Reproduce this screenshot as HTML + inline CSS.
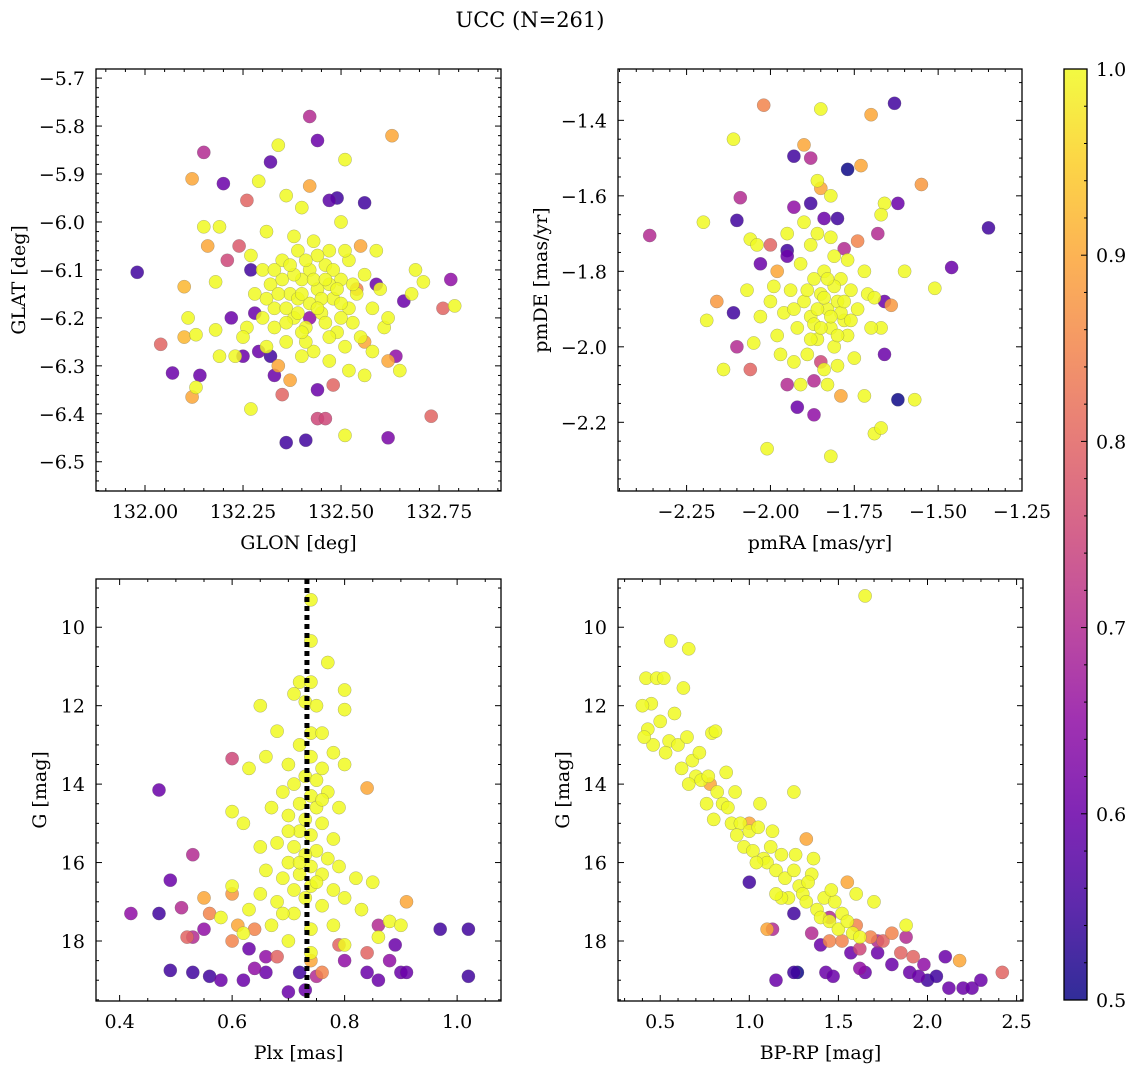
<!DOCTYPE html>
<html><head><meta charset="utf-8">
<style>
body{margin:0;background:#fff;}
svg{display:block;font-family:"DejaVu Serif","Liberation Serif",serif;}
</style></head>
<body>
<svg id="fig" width="1136" height="1068" xmlns="http://www.w3.org/2000/svg">
<text x="530" y="27" text-anchor="middle" font-size="21">UCC (N=261)</text>
</svg>
<script>
// ---- data: [x, y, membership probability] ----
const posData = [
[131.98,-6.105,.55],[132.07,-6.315,.6],[132.04,-6.255,.8],[132.10,-6.135,.92],[132.10,-6.24,.92],[132.14,-6.32,.6],[132.13,-6.235,1],[132.15,-5.855,.7],[132.12,-5.91,.9],[132.15,-6.01,1],[132.12,-6.365,.9],[132.13,-6.345,1],[132.20,-5.92,.6],[132.21,-6.08,.75],[132.24,-6.05,.78],[132.22,-6.2,.6],[132.23,-6.28,1],[132.27,-6.39,1],[132.32,-5.875,.58],[132.36,-6.46,.55],[132.41,-6.455,.55],[132.42,-5.78,.7],[132.44,-5.83,.6],[132.47,-5.955,.58],[132.51,-5.87,1],[132.51,-6.445,1],[132.44,-6.41,.75],[132.56,-5.96,.55],[132.56,-6.32,1],[132.62,-6.45,.62],[132.63,-5.82,.9],[132.66,-6.165,.6],[132.73,-6.405,.8],[132.76,-6.18,.8],[132.78,-6.12,.65],[132.79,-6.175,1],[132.69,-6.1,1],[132.68,-6.15,1],[132.71,-6.125,1],[132.65,-6.31,1],[132.62,-6.29,.9],[132.64,-6.28,.65],[132.59,-6.13,.6],[132.49,-5.95,.55],[132.46,-6.41,.75],[132.33,-6.32,.6],[132.35,-6.36,.8],[132.26,-5.955,.8],[132.34,-5.84,1],[132.29,-5.915,1],[132.36,-5.945,1],[132.40,-5.97,1],[132.42,-5.925,.9],[132.38,-6.03,1],[132.31,-6.02,1],[132.19,-6.01,1],[132.18,-6.125,1],[132.18,-6.225,1],[132.19,-6.28,1],[132.11,-6.2,1],[132.16,-6.05,.9],[132.29,-6.27,.6],[132.28,-6.19,.6],[132.44,-6.35,.6],[132.48,-6.34,.8],[132.56,-6.25,.9],[132.58,-6.27,1],
[132.30,-6.10,1],[132.32,-6.13,1],[132.35,-6.08,1],[132.37,-6.15,1],[132.40,-6.12,1],[132.42,-6.10,1],[132.44,-6.14,1],[132.46,-6.09,1],[132.48,-6.16,1],[132.50,-6.12,1],[132.52,-6.08,1],[132.54,-6.15,1],[132.56,-6.11,1],[132.58,-6.18,1],[132.60,-6.14,1],[132.38,-6.20,1],[132.41,-6.22,1],[132.45,-6.19,1],[132.49,-6.23,1],[132.53,-6.21,1],[132.33,-6.18,1],[132.36,-6.25,1],[132.43,-6.27,1],[132.47,-6.29,1],[132.51,-6.26,1],[132.55,-6.24,1],[132.39,-6.06,1],[132.43,-6.04,1],[132.47,-6.06,1],[132.51,-6.06,1],[132.28,-6.15,1],[132.26,-6.22,1],[132.31,-6.26,1],[132.34,-6.30,.9],[132.40,-6.28,1],[132.52,-6.31,1],[132.61,-6.22,1],[132.59,-6.06,1],[132.50,-6.00,1],[132.27,-6.07,1],[132.30,-6.20,1],[132.55,-6.05,.9],[132.62,-6.20,1],[132.42,-6.17,1],[132.46,-6.21,1],[132.39,-6.16,1],[132.35,-6.12,1],[132.52,-6.18,1],[132.48,-6.10,1],[132.41,-6.25,1],[132.33,-6.22,1],[132.25,-6.24,1],[132.37,-6.33,.9],[132.54,-6.14,.85],[132.44,-6.07,1],[132.36,-6.18,1],[132.47,-6.13,1],[132.50,-6.17,1],[132.42,-6.20,.65],[132.32,-6.28,.55],[132.25,-6.28,.6],[132.27,-6.1,.55],
[132.38,-6.11,1],[132.40,-6.15,1],[132.43,-6.12,1],[132.45,-6.16,1],[132.41,-6.08,1],[132.37,-6.09,1],[132.34,-6.15,1],[132.46,-6.12,1],[132.49,-6.14,1],[132.44,-6.18,1],[132.39,-6.19,1],[132.36,-6.21,1],[132.47,-6.24,1],[132.50,-6.20,1],[132.53,-6.13,1],[132.40,-6.23,1],[132.31,-6.16,1],[132.33,-6.10,1]
];
const pmData = [
[-2.36,-1.705,.7],[-2.02,-1.36,.85],[-1.63,-1.355,.55],[-1.85,-1.37,1],[-2.11,-1.45,1],[-1.93,-1.495,.55],[-1.90,-1.465,.9],[-1.88,-1.50,.7],[-1.77,-1.53,.5],[-1.70,-1.385,.9],[-1.73,-1.52,.9],[-1.55,-1.57,.88],[-1.62,-1.62,.6],[-1.35,-1.685,.55],[-1.46,-1.79,.6],[-1.51,-1.845,1],[-1.62,-2.14,.5],[-1.57,-2.14,1],[-1.69,-2.23,1],[-1.67,-2.215,1],[-1.82,-2.29,1],[-2.01,-2.27,1],[-1.92,-2.16,.6],[-2.19,-1.93,1],[-2.10,-1.665,.55],[-2.09,-1.605,.7],[-2.20,-1.67,1],[-2.11,-1.91,.55],[-2.10,-2.0,.7],[-2.14,-2.06,1],[-2.06,-1.715,1],[-2.00,-1.73,.8],[-1.95,-1.745,.55],[-1.66,-1.62,1],[-1.67,-1.65,1],[-1.68,-1.70,.7],[-1.66,-1.88,.6],[-1.66,-2.02,.6],[-1.60,-1.80,1],[-1.64,-1.89,.88],[-1.67,-1.95,1],[-1.86,-1.56,1],[-1.85,-1.58,.9],[-1.82,-1.60,1],[-1.80,-1.66,.55],[-1.79,-2.13,.9],[-1.87,-2.18,.65],[-1.72,-2.13,1],[-1.87,-2.09,.7],[-2.16,-1.88,.88],[-1.93,-1.63,.65],[-1.88,-1.62,.55],[-1.84,-1.66,.6],[-1.74,-1.72,.85],[-1.78,-1.74,.7],[-1.95,-1.76,.6],[-2.03,-1.78,.6],[-1.98,-1.80,.9],[-2.06,-2.06,.8],[-1.95,-2.10,.7],[-1.85,-2.04,.75],
[-1.83,-1.90,1],[-1.85,-1.86,1],[-1.80,-1.88,1],[-1.88,-1.92,1],[-1.78,-1.93,1],[-1.82,-1.95,1],[-1.86,-1.98,1],[-1.90,-1.88,1],[-1.76,-1.85,1],[-1.79,-1.82,1],[-1.87,-1.82,1],[-1.84,-1.80,1],[-1.92,-1.95,1],[-1.74,-1.90,1],[-1.81,-2.00,1],[-1.89,-2.02,1],[-1.94,-1.85,1],[-1.77,-1.97,1],[-1.91,-1.78,1],[-1.72,-1.80,1],[-1.96,-1.91,1],[-1.84,-2.06,1],[-1.88,-1.73,1],[-1.81,-1.76,1],[-1.75,-2.03,1],[-1.98,-1.97,1],[-1.93,-2.04,1],[-2.00,-1.88,1],[-2.03,-1.92,1],[-1.70,-1.95,1],[-1.86,-1.70,1],[-1.97,-2.02,1],[-2.05,-1.99,1],[-1.91,-2.10,1],[-1.71,-1.86,1],[-1.82,-1.71,1],[-1.90,-1.67,1],[-1.99,-1.84,1],[-2.04,-1.73,1],[-1.83,-2.10,1],[-1.69,-1.87,1],[-1.77,-1.77,1],[-1.95,-1.70,1],[-2.07,-1.85,1],[-1.80,-2.05,1],[-1.87,-1.94,1],[-1.79,-1.91,1],
[-1.84,-1.87,1],[-1.81,-1.84,1],[-1.86,-1.90,1],[-1.89,-1.85,1],[-1.82,-1.92,1],[-1.78,-1.88,1],[-1.85,-1.95,1],[-1.88,-1.98,1],[-1.80,-1.97,1],[-1.76,-1.93,1],[-1.93,-1.90,1],[-1.83,-1.82,1]
];
const plxData = [
[0.74,9.3,1],[0.74,10.35,1],[0.77,10.9,1],[0.72,11.4,1],[0.74,11.4,1],[0.80,11.6,1],[0.71,11.7,1],[0.73,11.9,1],[0.75,12.0,1],[0.65,12.0,1],[0.80,12.1,1],[0.74,12.7,1],[0.76,12.7,1],[0.68,12.65,1],[0.72,13.0,1],[0.78,13.2,1],[0.66,13.3,1],[0.74,13.3,1],[0.70,13.5,1],[0.76,13.6,1],[0.80,13.5,1],[0.63,13.6,1],[0.73,13.8,1],[0.75,13.9,1],[0.71,14.0,1],[0.69,14.2,1],[0.77,14.2,1],[0.74,14.3,1],[0.72,14.5,1],[0.67,14.6,1],[0.75,14.6,1],[0.60,14.7,1],[0.79,14.6,1],[0.70,14.8,1],[0.73,14.9,1],[0.76,15.0,1],[0.62,15.0,1],[0.72,15.2,1],[0.74,15.3,1],[0.78,15.4,1],[0.68,15.5,1],[0.71,15.6,1],[0.65,15.6,1],[0.75,15.7,1],[0.73,15.8,1],[0.77,15.9,1],[0.70,16.0,1],[0.74,16.1,1],[0.79,16.1,1],[0.66,16.2,1],[0.72,16.3,1],[0.76,16.3,1],[0.69,16.4,1],[0.82,16.4,1],[0.60,16.6,1],[0.74,16.6,1],[0.71,16.7,1],[0.78,16.7,1],[0.65,16.8,1],[0.85,16.5,1],[0.80,16.9,1],[0.73,16.9,1],[0.68,17.0,1],[0.76,17.1,1],[0.63,17.2,1],[0.83,17.2,1],[0.71,17.3,1],[0.58,17.4,1],[0.88,17.5,1],[0.67,17.6,1],[0.78,17.6,1],[0.74,17.7,1],[0.62,17.8,1],[0.86,17.9,1],[0.70,18.0,1],[0.80,18.1,1],[0.74,18.3,1],[0.90,17.6,1],[0.70,15.2,1],[0.76,14.4,1],[0.72,16.0,1],[0.75,16.5,1],[0.69,17.3,1],
[0.84,14.1,.9],[0.60,16.8,.88],[0.55,16.9,.9],[0.91,17.0,.9],[0.56,17.3,.85],[0.64,17.7,.85],[0.60,18.0,.85],[0.79,18.1,.8],[0.68,18.4,.8],[0.84,18.3,.8],[0.74,18.5,.9],[0.61,17.6,.9],[0.76,18.8,.85],[0.52,17.9,.8],
[0.42,17.3,.65],[0.47,17.3,.55],[0.47,14.15,.6],[0.53,15.8,.7],[0.49,16.45,.6],[0.60,13.35,.75],[0.51,17.15,.7],[0.53,17.9,.7],[0.55,17.7,.65],[0.49,18.75,.55],[0.53,18.8,.55],[0.56,18.9,.55],[0.58,19.0,.6],[0.62,19.0,.6],[0.64,18.7,.65],[0.66,18.8,.6],[0.63,18.2,.6],[0.66,18.4,.65],[0.72,18.8,.55],[0.73,19.25,.6],[0.75,18.9,.7],[0.80,18.5,.65],[0.84,18.8,.6],[0.86,19.0,.6],[0.88,18.5,.65],[0.90,18.8,.6],[0.89,18.1,.6],[0.91,18.8,.6],[0.97,17.7,.55],[1.02,17.7,.55],[1.02,18.9,.55],[0.86,17.6,.7],[0.70,19.3,.6]
];
const cmdData = [
[0.42,11.3,1],[0.45,11.95,1],[0.40,12.0,1],[0.48,11.3,1],[0.52,11.3,1],[0.43,12.6,1],[0.50,12.4,1],[0.46,13.0,1],[0.41,12.8,1],[0.55,12.9,1],[0.53,13.2,1],[0.58,12.2,1],[0.56,10.35,1],[0.66,10.55,1],[0.63,11.55,1],[0.60,13.0,1],[0.62,13.6,1],[0.65,12.8,1],[0.68,13.4,1],[0.70,13.8,1],[0.66,14.0,1],[0.73,13.9,1],[0.77,13.8,1],[0.79,12.7,1],[0.81,12.65,1],[0.82,14.2,1],[0.76,14.5,1],[0.85,14.5,1],[0.88,14.6,1],[0.80,14.9,1],[0.90,15.0,1],[0.92,14.2,1],[0.95,15.0,1],[0.87,13.7,1],[0.97,15.6,1],[1.00,15.2,1],[1.02,15.7,1],[1.05,15.1,1],[1.08,15.9,1],[1.10,16.0,1],[1.12,15.6,1],[1.15,16.2,1],[1.18,15.8,1],[1.20,16.4,1],[1.22,16.9,1],[1.25,14.2,1],[1.25,16.2,1],[1.28,16.6,1],[1.30,16.8,1],[1.32,17.0,1],[1.35,16.3,1],[1.38,17.2,1],[1.40,17.4,1],[1.42,16.9,1],[1.45,17.5,1],[1.48,17.0,1],[1.50,17.7,1],[1.52,17.3,1],[1.55,17.5,1],[1.58,17.8,1],[1.60,16.8,1],[1.62,17.9,1],[1.65,9.2,1],[1.70,17.0,1],[1.88,17.6,1],[1.18,16.9,1],[1.06,14.5,1],[1.13,15.2,1],[1.26,15.8,1],[1.36,15.9,1],[1.15,16.8,1],[0.72,13.2,1],[0.93,15.3,1],[1.04,16.0,1],[1.33,16.5,1],[1.46,16.7,1],
[1.32,15.4,.9],[1.55,16.5,.9],[1.60,17.6,.85],[1.68,17.9,.85],[1.75,18.0,.8],[1.85,18.3,.8],[1.80,17.8,.85],[1.92,18.4,.8],[2.18,18.5,.9],[2.42,18.8,.8],[1.62,18.2,.75],[1.52,18.0,.85],[1.00,15.0,.9],[0.78,14.0,.9],[1.45,18.0,.85],[1.10,17.7,.9],
[1.00,16.5,.55],[1.13,17.7,.7],[1.15,19.0,.6],[1.25,18.8,.55],[1.27,18.8,.5],[1.25,17.3,.55],[1.40,18.1,.6],[1.43,18.8,.6],[1.47,18.9,.6],[1.57,18.3,.6],[1.62,18.7,.65],[1.65,18.8,.6],[1.72,18.3,.6],[1.80,18.6,.6],[1.90,18.8,.6],[1.95,18.9,.6],[2.00,19.0,.55],[2.05,18.9,.55],[2.10,18.4,.6],[2.12,19.2,.6],[2.20,19.2,.6],[2.25,19.2,.6],[2.30,19.0,.6],[1.72,18.0,.7],[1.98,18.6,.65],[1.88,17.9,.7],[1.45,17.4,.7],[1.35,17.8,.7]
];
const plxLine = 0.733;
const cbTicks = [0.5,0.6,0.7,0.8,0.9,1.0];

const NS='http://www.w3.org/2000/svg';
const svg=document.getElementById('fig');
function mk(tag,attrs,parent){const e=document.createElementNS(NS,tag);for(const k in attrs)e.setAttribute(k,attrs[k]);(parent||svg).appendChild(e);return e;}
const stops=['#0d0887','#41049d','#6a00a8','#8f0da4','#b12a90','#cc4778','#e16462','#f2844b','#fca636','#fcce25','#f0f921'];
function hex(h){return [1,3,5].map(i=>parseInt(h.substr(i,2),16));}
function plasma(t){t=Math.max(0,Math.min(1,t));const f=t*10,i=Math.min(9,Math.floor(f)),r=f-i;const a=hex(stops[i]),b=hex(stops[i+1]);return 'rgb('+a.map((v,k)=>Math.round(v+(b[k]-v)*r)).join(',')+')';}
function pcolor(p){return plasma((p-0.5)/0.5);}
const FS=19;

function panel(cfg){
  const {name,x0,x1,y0,y1,xmin,xmax,ymin,ymax,invY,xt,xm,yt,ym,fmtx,fmty,xlabel,ylabel,ylx,data}=cfg;
  const g=mk('g',{});
  
  
  const sx=v=>x0+(v-xmin)/(xmax-xmin)*(x1-x0);
  const sy=v=>invY? y0+(v-ymin)/(ymax-ymin)*(y1-y0) : y1-(v-ymin)/(ymax-ymin)*(y1-y0);
  const clip='c'+name;
  const cp=mk('clipPath',{id:clip},g);mk('rect',{x:x0,y:y0,width:x1-x0,height:y1-y0},cp);
  const pts=mk('g',{'clip-path':'url(#'+clip+')'},g);
  
  
  const sorted=data.slice().sort((a,b)=>a[2]-b[2]);
  sorted.forEach(d=>{
    const c=mk('circle',{cx:sx(d[0]).toFixed(1),cy:sy(d[1]).toFixed(1),r:6.6,fill:pcolor(d[2]),'fill-opacity':0.85,stroke:'#666','stroke-opacity':0.5,'stroke-width':0.5},pts);
    
    
  });
  cfg.extra&&cfg.extra(g,sx,sy);
  mk('rect',{x:x0,y:y0,width:x1-x0,height:y1-y0,fill:'none',stroke:'#000','stroke-width':1.3},g);
  const tk=mk('g',{stroke:'#000','stroke-width':1},g);
  const eps=1e-9;
  for(let i=Math.ceil(xmin/xm-eps); i*xm<=xmax+eps; i++){const v=i*xm;const X=sx(v);const major=xt.some(t=>Math.abs(t-v)<xm/3);const L=major?6:3;mk('line',{x1:X,x2:X,y1:y1,y2:y1-L},tk);mk('line',{x1:X,x2:X,y1:y0,y2:y0+L},tk);}
  for(let i=Math.ceil(ymin/ym-eps); i*ym<=ymax+eps; i++){const v=i*ym;const Y=sy(v);const major=yt.some(t=>Math.abs(t-v)<ym/3);const L=major?6:3;mk('line',{y1:Y,y2:Y,x1:x0,x2:x0+L},tk);mk('line',{y1:Y,y2:Y,x1:x1,x2:x1-L},tk);}
  xt.forEach(v=>{const t=mk('text',{x:sx(v),y:y1+27,'text-anchor':'middle','font-size':FS},g);t.textContent=fmtx(v);});
  yt.forEach(v=>{const t=mk('text',{x:x0-11,y:sy(v)+7,'text-anchor':'end','font-size':FS},g);t.textContent=fmty(v);});
  const xl=mk('text',{x:(x0+x1)/2,y:y1+58,'text-anchor':'middle','font-size':FS},g);xl.textContent=xlabel;
  
  const yl=mk('text',{x:ylx,y:(y0+y1)/2,'text-anchor':'middle','font-size':FS,transform:'rotate(-90 '+ylx+' '+((y0+y1)/2)+')'},g);yl.textContent=ylabel;
  
}
const negf=(v,d)=>(v<0?'\u2212':'')+Math.abs(v).toFixed(d);
panel({name:'glon-glat-panel',x0:96,x1:501,y0:69,y1:491,xmin:131.875,xmax:132.908,ymin:-6.561,ymax:-5.681,
 xt:[132,132.25,132.5,132.75],xm:0.05,yt:[-5.7,-5.8,-5.9,-6.0,-6.1,-6.2,-6.3,-6.4,-6.5],ym:0.02,
 fmtx:v=>v.toFixed(2),fmty:v=>negf(v,1),xlabel:'GLON [deg]',ylabel:'GLAT [deg]',ylx:25,data:posData});
panel({name:'pm-panel',x0:618,x1:1022,y0:69,y1:491,xmin:-2.4545,xmax:-1.25,ymin:-2.382,ymax:-1.264,
 xt:[-2.25,-2,-1.75,-1.5,-1.25],xm:0.05,yt:[-1.4,-1.6,-1.8,-2.0,-2.2],ym:0.05,
 fmtx:v=>negf(v,2),fmty:v=>negf(v,1),xlabel:'pmRA [mas/yr]',ylabel:'pmDE [mas/yr]',ylx:547,data:pmData});
panel({name:'plx-g-panel',x0:96,x1:501,y0:579,y1:1001,xmin:0.358,xmax:1.078,ymin:8.77,ymax:19.53,invY:true,
 xt:[0.4,0.6,0.8,1.0],xm:0.05,yt:[10,12,14,16,18],ym:0.5,
 fmtx:v=>v.toFixed(1),fmty:v=>String(v),xlabel:'Plx [mas]',ylabel:'G [mag]',ylx:46,data:plxData,
 extra:(g,sx,sy)=>{const l=mk('line',{x1:sx(plxLine),x2:sx(plxLine),y1:579,y2:1001,stroke:'#000','stroke-width':5,'stroke-dasharray':'5 4'},g);}});
panel({name:'cmd-panel',x0:618,x1:1023,y0:579,y1:1001,xmin:0.263,xmax:2.536,ymin:8.77,ymax:19.53,invY:true,
 xt:[0.5,1.0,1.5,2.0,2.5],xm:0.1,yt:[10,12,14,16,18],ym:0.5,
 fmtx:v=>v.toFixed(1),fmty:v=>String(v),xlabel:'BP-RP [mag]',ylabel:'G [mag]',ylx:569,data:cmdData});

// colorbar
(function(){
  const x0=1064,x1=1087,y0=69,y1=1000;
  const g=mk('g',{});
  
  
  const defs=mk('defs',{},g);
  const lg=mk('linearGradient',{id:'cbg',x1:0,y1:1,x2:0,y2:0},defs);
  for(let i=0;i<=20;i++){mk('stop',{offset:i/20,'stop-color':plasma(i/20),'stop-opacity':0.85},lg);}
  mk('rect',{x:x0,y:y0,width:x1-x0,height:y1-y0,fill:'url(#cbg)',stroke:'#000','stroke-width':1.3},g);
  const sy=v=>y1-(v-0.5)/0.5*(y1-y0);
  for(let i=0;i<=25;i++){const v=0.5+i*0.02;const Y=sy(v);const L=(i%5===0)?6:3;mk('line',{x1:x1,x2:x1-L,y1:Y,y2:Y,stroke:'#000','stroke-width':1},g);}
  cbTicks.forEach(v=>{const t=mk('text',{x:x1+9,y:sy(v)+7,'font-size':FS},g);t.textContent=v.toFixed(1);});
})();
</script>
</body></html>
